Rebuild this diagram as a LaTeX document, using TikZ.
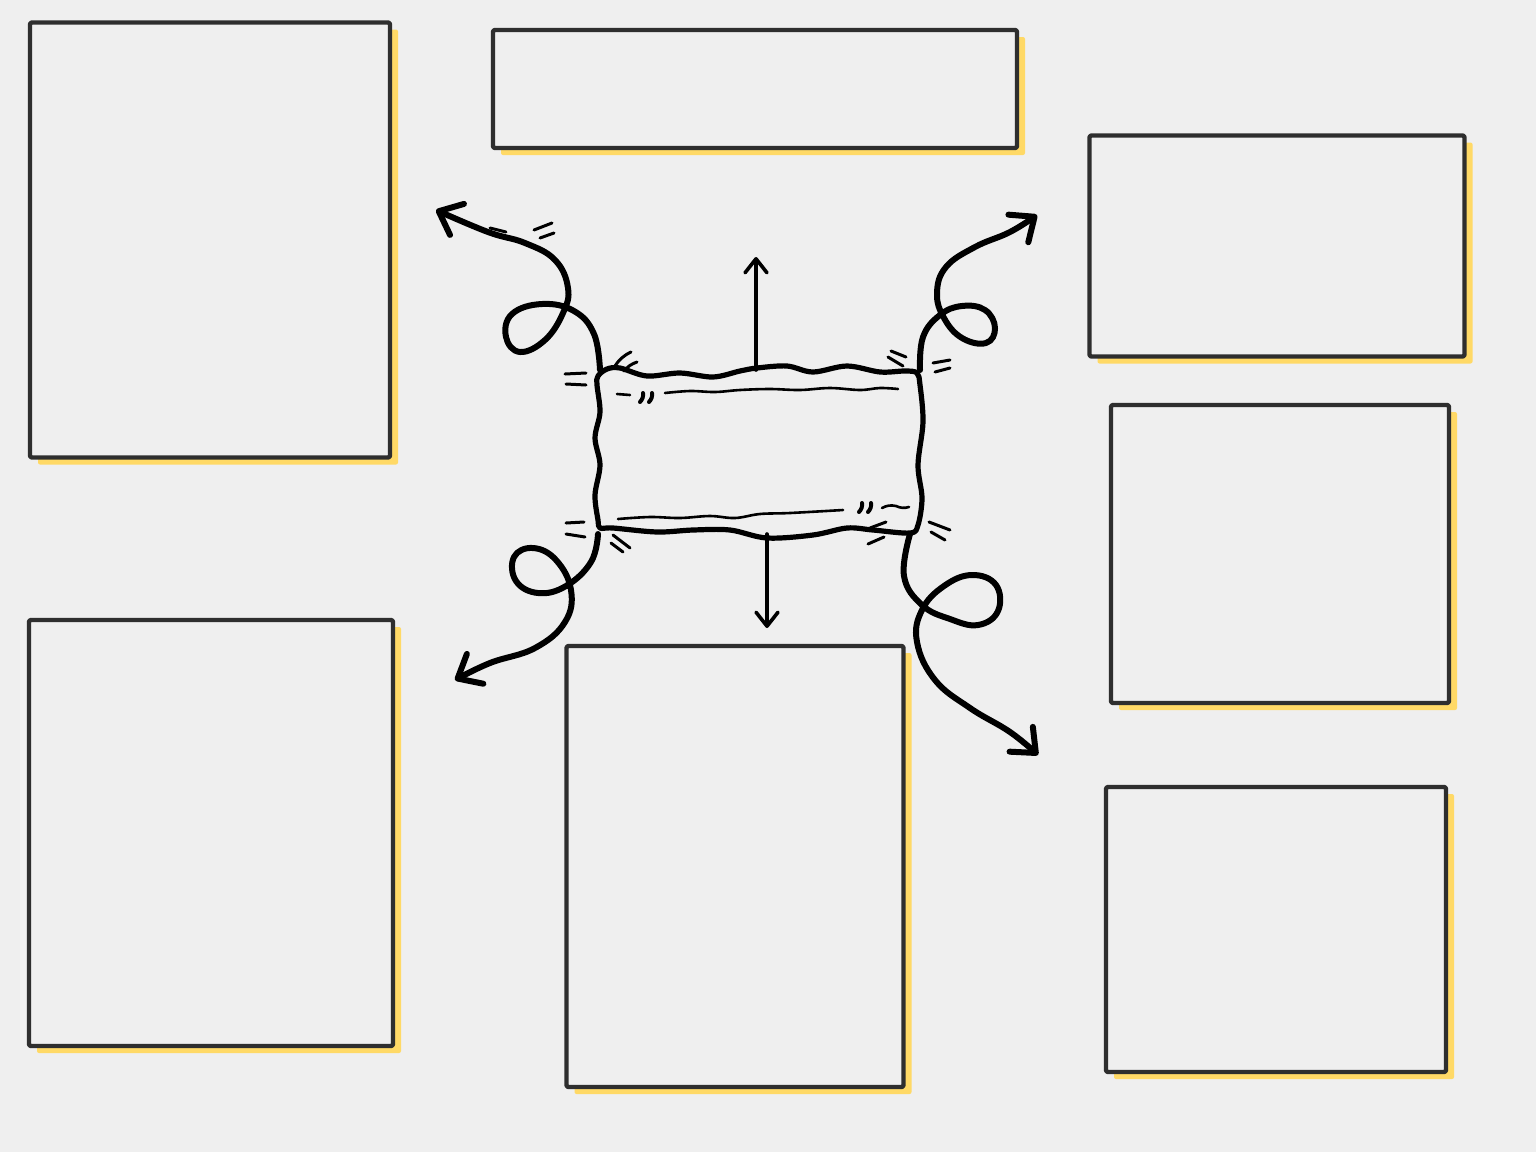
\documentclass[tikz,border=0pt]{standalone}
\usetikzlibrary{arrows.meta,shadows}
\definecolor{paper}{HTML}{EFEFEF}
\definecolor{ink}{HTML}{2E2E2E}
\definecolor{shade}{HTML}{FFD966}
\begin{document}
\begin{tikzpicture}[x=0.5pt, y=-0.5pt, line cap=round, line join=round,
  card/.style={draw=ink, line width=2.2pt, fill=paper, inner sep=0pt, outer sep=0pt, rounded corners=1pt,
    drop shadow={shadow xshift=4pt, shadow yshift=-3.5pt, fill=shade, opacity=1}},
  hubbox/.style={inner sep=0pt, outer sep=0pt, minimum width=161pt, minimum height=82pt},
  rim/.style={draw=black, line width=2.6pt},
  seam/.style={draw=black, line width=1.3pt},
  tick/.style={draw=black, line width=1.5pt},
  curl/.style={draw=black, line width=3pt, -{Straight Barb[length=10pt, width=17pt, round]}},
  shaft/.style={draw=black, line width=1.8pt, -{Straight Barb[length=7pt, width=11pt, round]}}]
\useasboundingbox (0,0) rectangle (1536,1152);
\path[fill=paper] (0,0) rectangle (1536,1152);
\node[card, minimum width=180pt, minimum height=217.5pt] (cardNW) at (210,240) {};
\node[card, minimum width=262pt, minimum height=59pt] (cardN) at (755,89) {};
\node[card, minimum width=187.5pt, minimum height=110.5pt] (cardNE) at (1277,246) {};
\node[card, minimum width=169pt, minimum height=149pt] (cardE) at (1280,554) {};
\node[card, minimum width=170pt, minimum height=142.5pt] (cardSE) at (1276,929.5) {};
\node[card, minimum width=182pt, minimum height=213pt] (cardSW) at (211,833) {};
\node[card, minimum width=168.5pt, minimum height=220.5pt] (cardS) at (735,866.5) {};
\node[hubbox] (hub) at (759,452) {};
\draw[rim] plot[smooth cycle, tension=0.55] coordinates {(598,376) (607,369) (620,368) (647,376) (680,373)
  (713,377) (740,371) (757,368) (787,366) (813,372) (847,366) (880,372) (905,371) (917,373) (920,385)
  (923,422) (918,465) (922,498) (918,525) (910,533) (873,530) (847,528) (813,535) (767,538) (730,530)
  (693,530) (657,532) (613,528) (600,528) (598,520) (595,495) (600,465) (595,438) (600,412) (597,385)};
\draw[seam] plot[smooth, tension=0.6] coordinates {(665,393) (690,391) (715,392) (740,390) (770,389)
  (800,390) (830,388) (860,390) (880,388) (898,389)};
\draw[seam] plot[smooth, tension=0.6] coordinates {(618,519) (650,517) (680,518) (710,516) (735,518)
  (760,514) (790,513) (843,510)};
\draw[seam] (617,394) -- (630,395);
\draw[seam, line width=2pt] (643,393) to[bend left=25] (640,402); \draw[seam, line width=2pt] (652,393) to[bend left=25] (649,402);
\draw[seam, line width=2pt] (862,503) to[bend left=25] (859,512); \draw[seam, line width=2pt] (871,503) to[bend left=25] (868,512);
\draw[seam] (882,508) to[bend left=20] (896,506) to[bend right=20] (909,507);
\coordinate (upend) at (756,257);
\coordinate (downend) at (767,628);
\draw[shaft] ([xshift=-1.5pt]hub.north) -- (upend);
\draw[shaft] ([xshift=4pt]hub.south) -- (downend);
\coordinate (nwend) at (436,210);
\coordinate (neend) at (1037,215);
\coordinate (swend) at (455,680);
\coordinate (seend) at (1038,755);
\draw[curl] plot[smooth, tension=0.7] coordinates {([xshift=1pt]hub.north west) (594,334) (574,311) (542,304)
  (512,314) (506,337) (520,352) (545,340) (563,313) (568,288) (555,260) (525,243) (488,232) (nwend)};
\draw[curl] plot[smooth, tension=0.7] coordinates {(hub.north east) (923,337) (940,315) (962,306)
  (985,310) (995,328) (986,343) (962,338) (944,318) (937,293) (946,267) (975,247)
  (1010,232) (neend)};
\draw[curl] plot[smooth, tension=0.7] coordinates {(hub.south west) (591,562) (566,586) (538,593)
  (516,581) (514,557) (533,548) (556,560) (571,590) (565,622) (535,648) (490,663) (swend)};
\draw[curl] plot[smooth, tension=0.7] coordinates {([xshift=-5pt]hub.south east) (904,576) (922,605)
  (950,619) (978,625) (998,611) (996,585) (972,575) (944,586) (922,610) (917,642)
  (935,680) (970,708) (1010,732) (seend)};
\draw[tick] (565,374) -- (586,373); \draw[tick] (566,384) -- (586,385);
\draw[tick] (615,366) to[bend left=15] (631,352); \draw[tick] (624,371) to[bend left=15] (637,362);
\draw[tick] (891,351) -- (906,357); \draw[tick] (888,357) -- (903,366);
\draw[tick] (933,363) -- (950,360); \draw[tick] (935,372) -- (950,368);
\draw[tick] (566,523) -- (584,522); \draw[tick] (566,534) -- (585,537);
\draw[tick] (613,535) -- (630,548); \draw[tick] (611,543) -- (623,552);
\draw[tick] (929,522) -- (950,530); \draw[tick] (931,532) -- (945,540);
\draw[tick] (870,528) -- (886,522); \draw[tick] (868,544) -- (884,537);
\draw[tick] (534,230) -- (552,223); \draw[tick] (540,238) -- (554,233);
\draw[tick] (490,228) -- (506,232);
\end{tikzpicture}
\end{document}
